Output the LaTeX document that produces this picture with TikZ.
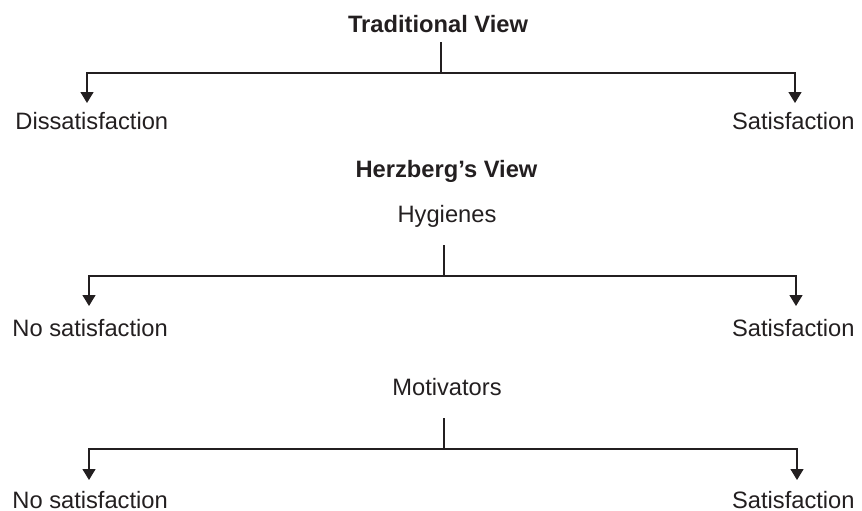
\documentclass[tikz,border=0pt]{standalone}
\usepackage{fontspec}
\setmainfont{Liberation Sans}
\usetikzlibrary{arrows.meta}
\definecolor{ink}{RGB}{35,31,32}
\begin{document}
\begin{tikzpicture}[x=0.5pt,y=-0.5pt,
  txt/.style={inner sep=0pt,text=ink,font=\fontsize{11.85}{14}\selectfont},
  head/.style={txt,font=\fontsize{11.85}{14}\selectfont\bfseries},
  stem/.style={draw=ink,line width=0.65pt},
  branch/.style={draw=ink,line width=0.65pt,-{Triangle[width=6.5pt,length=5.5pt]}}]
\useasboundingbox (0,0) rectangle (862,510);

% Traditional view
\node[head,anchor=base] (trad) at (438,32.5) {Traditional View};
\node[txt,anchor=base west] (dis1) at (15,129.5) {Dissatisfaction};
\node[txt,anchor=base east] (sat1) at (855,129.5) {Satisfaction};
\coordinate (s1) at (441,42);
\coordinate (j1) at (441,73);
\coordinate (l1) at (87,103);
\coordinate (r1) at (795,103);
\draw[stem] (s1) -- (j1);
\draw[branch] (j1) -| (l1);
\draw[branch] (j1) -| (r1);

% Herzberg's view: hygienes
\node[head,anchor=base] (herz) at (446.5,177) {Herzberg’s View};
\node[txt,anchor=base] (hyg) at (447,222) {Hygienes};
\node[txt,anchor=base west] (no2) at (12,336) {No satisfaction};
\node[txt,anchor=base east] (sat2) at (855,336) {Satisfaction};
\coordinate (s2) at (444,245);
\coordinate (j2) at (444,276);
\coordinate (l2) at (89,306);
\coordinate (r2) at (796,306);
\draw[stem] (s2) -- (j2);
\draw[branch] (j2) -| (l2);
\draw[branch] (j2) -| (r2);

% Herzberg's view: motivators
\node[txt,anchor=base] (mot) at (447,395) {Motivators};
\node[txt,anchor=base west] (no3) at (12,508) {No satisfaction};
\node[txt,anchor=base east] (sat3) at (855,508) {Satisfaction};
\coordinate (s3) at (444,418);
\coordinate (j3) at (444,449);
\coordinate (l3) at (89,480);
\coordinate (r3) at (797,480);
\draw[stem] (s3) -- (j3);
\draw[branch] (j3) -| (l3);
\draw[branch] (j3) -| (r3);
\end{tikzpicture}
\end{document}
